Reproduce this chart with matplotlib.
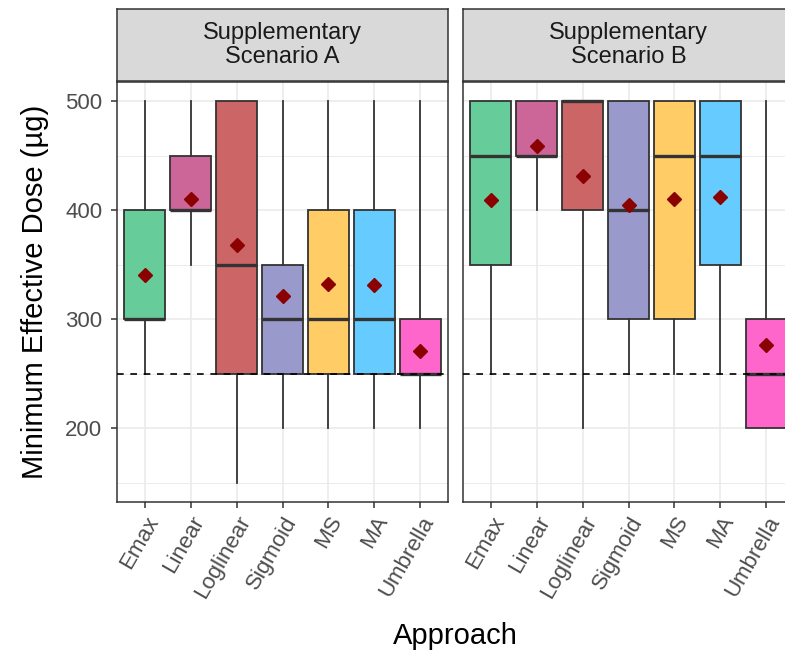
import matplotlib
matplotlib.use('Agg')
import matplotlib.pyplot as plt

approaches = ['Emax', 'Linear', 'Loglinear', 'Sigmoid', 'MS', 'MA', 'Umbrella']
colors = ['#66CC99', '#CC6699', '#CC6666', '#9999CC', '#FFCC66', '#66CCFF', '#FF66CC']
panels = ['Supplementary\nScenario A', 'Supplementary\nScenario B']

# per approach: whisker low, q1, median, q3, whisker high, mean
a_whislo = [250, 350, 150, 200, 200, 200, 200]
a_q1 = [300, 400, 250, 250, 250, 250, 250]
a_med = [300, 400, 350, 300, 300, 300, 250]
a_q3 = [400, 450, 500, 350, 400, 400, 300]
a_whishi = [500, 500, 500, 500, 500, 500, 500]
a_mean = [341, 410, 368, 321, 332, 331, 271]

b_whislo = [250, 400, 200, 250, 250, 250, 200]
b_q1 = [350, 450, 400, 300, 300, 350, 200]
b_med = [450, 450, 500, 400, 450, 450, 250]
b_q3 = [500, 500, 500, 500, 500, 500, 300]
b_whishi = [500, 500, 500, 500, 500, 500, 500]
b_mean = [409, 459, 431, 405, 410, 412, 276]

data = [
    (a_whislo, a_q1, a_med, a_q3, a_whishi, a_mean),
    (b_whislo, b_q1, b_med, b_q3, b_whishi, b_mean),
]

plt.rcParams['font.family'] = ['Liberation Sans', 'DejaVu Sans']

W, H = 785, 655
fig = plt.figure(figsize=(W / 100, H / 100), dpi=100)

ax_w = 331 / W
lefts = [117 / W, 463 / W]
bottom = 1 - 502 / H
height = 420 / H

for i, (lo, q1, med, q3, hi, mn) in enumerate(data):
    ax = fig.add_axes([lefts[i], bottom, ax_w, height])
    stats = []
    for j in range(len(approaches)):
        stats.append(dict(whislo=lo[j], q1=q1[j], med=med[j], q3=q3[j],
                          whishi=hi[j], mean=mn[j], fliers=[]))
    bp = ax.bxp(stats, positions=range(1, 8), widths=0.9, patch_artist=True,
                showmeans=True, showcaps=False,
                meanprops=dict(marker='D', markerfacecolor='#8B0000',
                               markeredgecolor='#8B0000', markersize=7.5),
                medianprops=dict(color='#333333', linewidth=2.4),
                whiskerprops=dict(color='#333333', linewidth=1.3),
                boxprops=dict(edgecolor='#333333', linewidth=1.3))
    for patch, c in zip(bp['boxes'], colors):
        patch.set_facecolor(c)
    for el in bp['whiskers'] + bp['boxes']:
        el.set_zorder(3)
    for el in bp['medians']:
        el.set_zorder(4)
    for el in bp['means']:
        el.set_zorder(5)

    ax.axhline(250, color='black', linestyle=(0, (4, 4)), linewidth=1.2, zorder=4)

    ax.set_xlim(0.4, 7.6)
    ax.set_ylim(132.5, 517.5)
    ax.set_yticks([200, 300, 400, 500])
    ax.set_yticks([150, 250, 350, 450], minor=True)
    ax.set_xticks(range(1, 8))
    ax.set_xticklabels(approaches, rotation=60, ha='right', va='top',
                       rotation_mode='anchor', fontsize=16, color='#4D4D4D')
    ax.grid(True, which='major', color='#EBEBEB', linewidth=1.2, zorder=0)
    ax.grid(True, which='minor', axis='y', color='#EBEBEB', linewidth=0.7, zorder=0)
    ax.set_axisbelow(True)
    ax.tick_params(axis='both', which='major', length=4.5, color='#333333',
                   labelsize=16, labelcolor='#4D4D4D', width=1.1, pad=3)
    ax.tick_params(axis='y', which='major', pad=6)
    ax.tick_params(axis='y', which='minor', length=0)
    for s in ax.spines.values():
        s.set_color('#333333')
        s.set_linewidth(1.1)
    if i == 0:
        ax.set_ylabel('Minimum Effective Dose (µg)', fontsize=21, labelpad=12)
    else:
        ax.set_yticklabels([])
        ax.tick_params(axis='y', which='major', length=0)

    # facet strip
    sax = fig.add_axes([lefts[i], 1 - 81 / H, ax_w, 72 / H])
    sax.set_xticks([])
    sax.set_yticks([])
    sax.set_facecolor('#D9D9D9')
    for s in sax.spines.values():
        s.set_color('#333333')
        s.set_linewidth(1.1)
    sax.text(0.5, 0.5, panels[i], ha='center', va='center', fontsize=17,
             color='#1A1A1A', linespacing=1.15, transform=sax.transAxes)

fig.text(455 / W, 1 - 636 / H, 'Approach', ha='center', va='center', fontsize=21)

fig.savefig('out.png', dpi=100)
